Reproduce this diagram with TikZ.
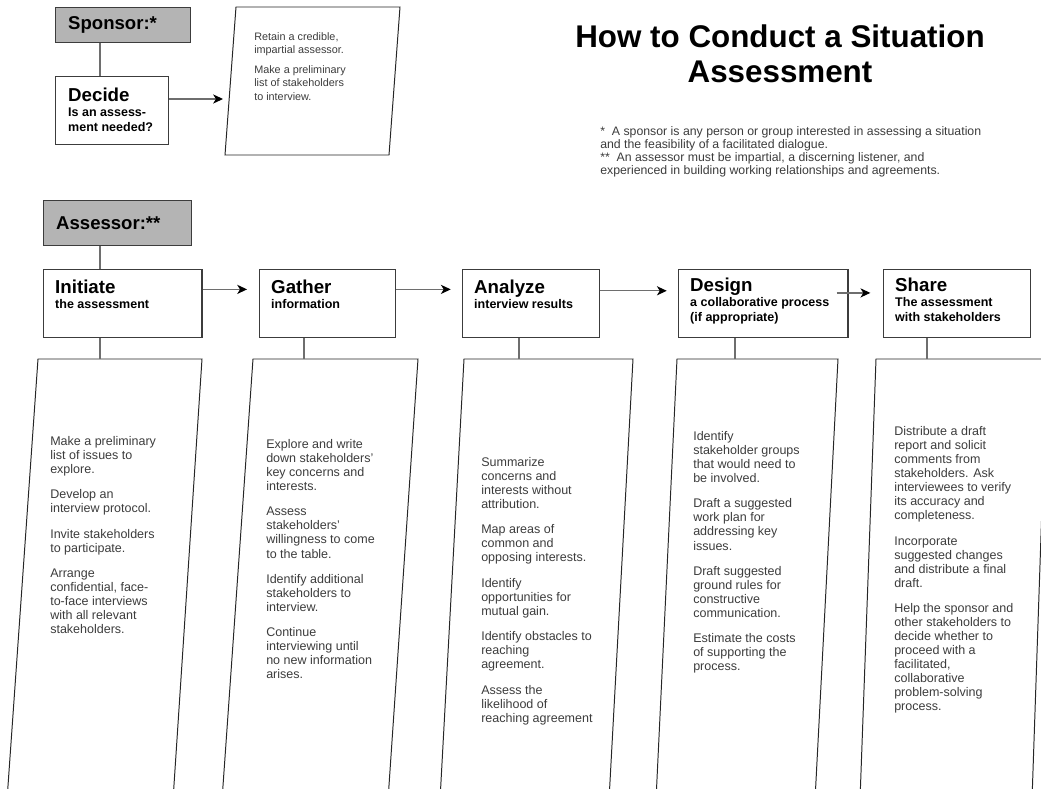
\documentclass[tikz,border=0pt]{standalone}
\usepackage{fontspec}
\setmainfont{Liberation Sans}
\usetikzlibrary{arrows.meta,positioning}

\definecolor{rolegray}{RGB}{180,180,180}
\definecolor{inkgray}{RGB}{60,60,60}
\definecolor{linkgray}{RGB}{110,110,110}

\newcommand{\steptitle}[1]{{\fontsize{13.3}{10.6}\selectfont #1}}
\newcommand{\colgap}{\\[8pt]}
\newcommand{\notegap}{\\[5pt]}

\tikzset{
  rolebox/.style={draw=inkgray, fill=rolegray, line width=0.8pt, anchor=north west,
    inner xsep=9pt, inner ysep=0pt, align=left, text width=#1,
    font=\fontsize{13.2}{15}\selectfont\bfseries},
  stepbox/.style={draw=inkgray, line width=0.8pt, anchor=north west, inner sep=0pt,
    minimum width=#1, minimum height=48.2pt},
  steptext/.style={anchor=north west, inner sep=0pt, align=left,
    font=\fontsize{8.9}{10.6}\selectfont\bfseries},
  coltext/.style={anchor=north west, inner sep=0pt, align=left, text=inkgray,
    font=\fontsize{8.9}{10}\selectfont},
  panel/.style={draw=black!85, line width=0.7pt},
  link/.style={draw=linkgray, line width=0.9pt},
  flow/.style={link, -{Stealth[length=7pt, width=6.5pt, inset=2pt, black]}}
}

\begin{document}
\begin{tikzpicture}[x=0.025cm, y=-0.025cm]
    \useasboundingbox (0,0) rectangle (1041,789);

    % Draw the title and the notes
    \node[anchor=north, inner sep=0pt, align=center,
      font=\fontsize{22.3}{25}\selectfont\bfseries] (title) at (780,24)
      {How to Conduct a Situation\\Assessment};
    \node[anchor=north west, inner sep=0pt, align=left, text=inkgray,
      font=\fontsize{8.75}{9.2}\selectfont] (notes) at (600,126)
      {*\ \ A sponsor is any person or group interested in assessing a situation\\
       and the feasibility of a facilitated dialogue.\\
       **\ \ An assessor must be impartial, a discerning listener, and\\
       experienced in building working relationships and agreements.};

    % Draw the sponsor part
    \node[rolebox=78pt, minimum height=24.8pt] (sponsor) at (55,7) {Sponsor:*};
    \node[stepbox=80.1pt] (decide) at (55,76) {};
    \node[steptext, below right=8.3pt and 9.2pt of decide.north west] (decidelabel)
      {\steptitle{Decide}\\Is an assess-\\ment needed?};
    \coordinate (sponsorlink) at (100,0); % vertical link line
    \draw[link] (sponsor.south -| sponsorlink) -- (decide.north -| sponsorlink);

    % Draw the note box of the sponsor
    \draw[panel] (236,7) -- (400,7) -- (389,155) -- (225,155) -- cycle;
    \node[coltext, font=\fontsize{7.7}{9.4}\selectfont] (sponsornote) at (254,32)
      {Retain a credible,\\impartial assessor.\notegap
       Make a preliminary\\list of stakeholders\\to interview.};
    \coordinate (notein) at (223,99); % arrow tip
    \draw[flow] (decide.east |- notein) -- (notein);

    % Draw the assessor part
    \node[rolebox=86.9pt, minimum height=31.9pt] (assessor) at (43,200) {Assessor:**};

    % Draw the five steps
    \node[stepbox=112.7pt] (initiate) at (43,269) {};
    \node[stepbox=96.4pt] (gather) at (259,269) {};
    \node[stepbox=97.1pt] (analyze) at (462,269) {};
    \node[stepbox=120.5pt] (design) at (678,269) {};
    \node[stepbox=104.2pt] (share) at (883,269) {};

    \node[steptext, below right=7.8pt and 8.5pt of initiate.north west] (initiatelabel)
      {\steptitle{Initiate}\\the assessment};
    \node[steptext, below right=7.8pt and 8.5pt of gather.north west] (gatherlabel)
      {\steptitle{Gather}\\information};
    \node[steptext, below right=7.8pt and 8.5pt of analyze.north west] (analyzelabel)
      {\steptitle{Analyze}\\interview results};
    \node[steptext, below right=6.5pt and 8.5pt of design.north west] (designlabel)
      {\steptitle{Design}\\a collaborative process\\(if appropriate)};
    \node[steptext, below right=6.5pt and 8.5pt of share.north west] (sharelabel)
      {\steptitle{Share}\\The assessment\\with stakeholders};

    \draw[link] (assessor.south -| sponsorlink) -- (initiate.north -| sponsorlink);

    % Draw the arrows between the steps
    \draw[flow, shorten >=8.5pt] ([yshift=10pt]initiate.east) -- ([yshift=10pt]gather.west);
    \draw[flow, shorten >=8pt] ([yshift=10pt]gather.east) -- ([yshift=10pt]analyze.west);
    \draw[flow, shorten >=8pt] ([yshift=9pt]analyze.east) -- ([yshift=9pt]design.west);
    \draw[flow, shorten >=9pt] ([xshift=-8.5pt,yshift=7.5pt]design.east) -- ([yshift=7.5pt]share.west);

    % Draw the five columns
    \draw[panel] (38,359) -- (202,359) -- (173,800) -- (7,800) -- cycle;
    \draw[panel] (253,359) -- (418,359) -- (388,800) -- (222,800) -- cycle;
    \draw[panel] (464,359) -- (633,359) -- (609,800) -- (440,800) -- cycle;
    \draw[panel] (677,359) -- (838,359) -- (815,800) -- (656,800) -- cycle;
    \draw[panel] (876,359) -- (1047,359) -- (1032,800) -- (860,800) -- cycle;

    \coordinate (initiatein) at (100,359);
    \coordinate (gatherin) at (304,359);
    \coordinate (analyzein) at (519,359);
    \coordinate (designin) at (735,359);
    \coordinate (sharein) at (927,359);
    \foreach \step in {initiate,gather,analyze,design,share}
      \draw[link] (\step.south -| \step in) -- (\step in);

    % Draw the texts of the columns
    \node[coltext] (initiatetext) at (50,436)
      {Make a preliminary\\list of issues to\\explore.\colgap
       Develop an\\interview protocol.\colgap
       Invite stakeholders\\to participate.\colgap
       Arrange\\confidential, face-\\to-face interviews\\with all relevant\\stakeholders.};
    \node[coltext] (gathertext) at (266,439)
      {Explore and write\\down stakeholders'\\key concerns and\\interests.\colgap
       Assess\\stakeholders'\\willingness to come\\to the table.\colgap
       Identify additional\\stakeholders to\\interview.\colgap
       Continue\\interviewing until\\no new information\\arises.};
    \node[coltext] (analyzetext) at (481,457)
      {Summarize\\concerns and\\interests without\\attribution.\colgap
       Map areas of\\common and\\opposing interests.\colgap
       Identify\\opportunities for\\mutual gain.\colgap
       Identify obstacles to\\reaching\\agreement.\colgap
       Assess the\\likelihood of\\reaching agreement};
    \node[coltext] (designtext) at (693,431)
      {Identify\\stakeholder groups\\that would need to\\be involved.\colgap
       Draft a suggested\\work plan for\\addressing key\\issues.\colgap
       Draft suggested\\ground rules for\\constructive\\communication.\colgap
       Estimate the costs\\of supporting the\\process.};
    \node[coltext] (sharetext) at (894,426)
      {Distribute a draft\\report and solicit\\comments from\\stakeholders. Ask\\interviewees to verify\\its accuracy and\\completeness.\colgap
       Incorporate\\suggested changes\\and distribute a final\\draft.\colgap
       Help the sponsor and\\other stakeholders to\\decide whether to\\proceed with a\\facilitated,\\collaborative\\problem-solving\\process.};
\end{tikzpicture}
\end{document}
